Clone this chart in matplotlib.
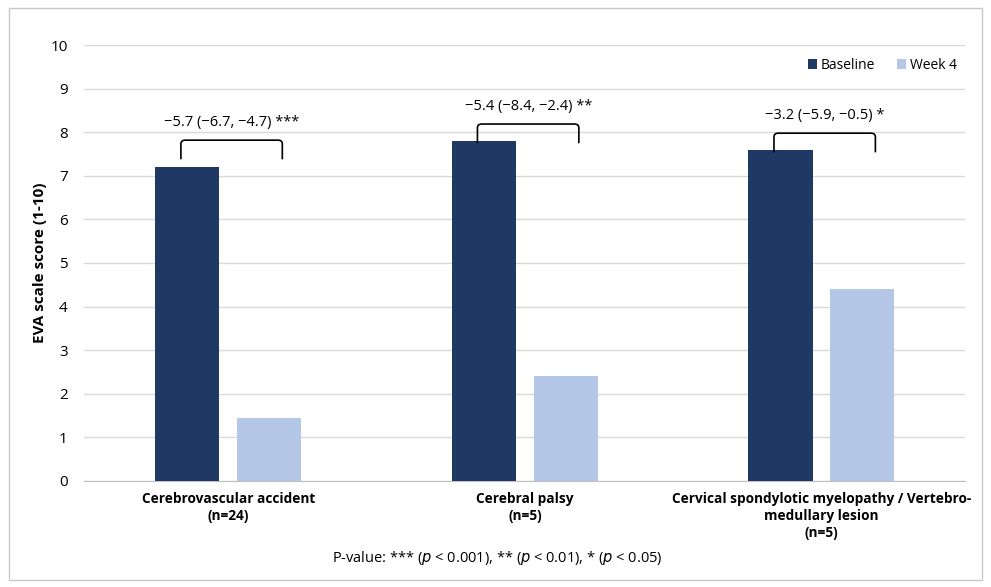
import matplotlib.pyplot as plt
import matplotlib.patches as patches
from matplotlib.path import Path
import numpy as np

plt.rcParams['font.family'] = ['Open Sans', 'DejaVu Sans']

# Dati
categories = ['Cerebrovascular accident\n(n=24)',
              'Cerebral palsy\n(n=5)',
              'Cervical spondylotic myelopathy / Vertebro-\nmedullary lesion\n(n=5)']
baseline = [7.2, 7.8, 7.6]
week4 = [1.45, 2.4, 4.4]
diff_labels = ['\u22125.7 (\u22126.7, \u22124.7) ***',
               '\u22125.4 (\u22128.4, \u22122.4) **',
               '\u22123.2 (\u22125.9, \u22120.5) *']
bracket_top = [7.82, 8.19, 7.98]
yticks = list(range(0, 11))

dark = '#1F3864'
light = '#B4C7E7'

fig = plt.figure(figsize=(9.91, 5.87), dpi=100)
ax = fig.add_axes([0.085, 0.181, 0.889, 0.742])

# Cornice esterna
fig.patches.append(patches.Rectangle((0.009, 0.012), 0.982, 0.975, transform=fig.transFigure,
                                     fill=False, edgecolor='#C8C8C8', linewidth=1.0))

x = np.arange(len(categories))
w = 0.216
off = 0.138
ax.bar(x - off, baseline, w, color=dark, label='Baseline', zorder=3)
ax.bar(x + off, week4, w, color=light, label='Week 4', zorder=3)

# Parentesi e etichette
r_x, r_y = 0.014, 0.09
tail = 0.44
for i in range(len(categories)):
    xl = x[i] - 0.16
    xr = x[i] + 0.182
    yt = bracket_top[i]
    yb = yt - tail
    verts = [(xl, yb), (xl, yt - r_y), (xl, yt), (xl + r_x, yt),
             (xr - r_x, yt), (xr, yt), (xr, yt - r_y), (xr, yb)]
    codes = [Path.MOVETO, Path.LINETO, Path.CURVE3, Path.CURVE3,
             Path.LINETO, Path.CURVE3, Path.CURVE3, Path.LINETO]
    ax.add_patch(patches.PathPatch(Path(verts, codes), fill=False, edgecolor='black',
                                   linewidth=1.2, zorder=4))
    ax.text((xl + xr) / 2, yt + 0.4, diff_labels[i], ha='center', va='center', fontsize=10.5)

ax.set_xlim(-0.486, 2.485)
ax.set_ylim(0, 10)
ax.set_yticks(yticks)
ax.set_xticks(x)
ax.set_xticklabels(categories, fontsize=9.8, fontweight='bold', linespacing=1.3)
ax.tick_params(axis='both', length=0, labelsize=11)
ax.tick_params(axis='x', pad=8, labelsize=9.8)
ax.tick_params(axis='y', pad=12)
ax.grid(axis='y', color='#D9D9D9', linewidth=1.0, zorder=0)
for s in ['top', 'right', 'left']:
    ax.spines[s].set_visible(False)
ax.spines['bottom'].set_color('#BFBFBF')
ax.set_ylabel('EVA scale score (1-10)', fontsize=11, fontweight='bold', labelpad=2)

ax.legend(loc='upper right', bbox_to_anchor=(1.0, 0.99), frameon=False, ncol=2,
          fontsize=10, handlelength=0.65, handleheight=0.65, columnspacing=1.6,
          handletextpad=0.25, borderaxespad=0.2)

fig.text(0.502, 0.049, 'P-value: *** ($p$ < 0.001), ** ($p$ < 0.01), * ($p$ < 0.05)',
         ha='center', va='center', fontsize=10.5)

fig.savefig('out.png', dpi=100)
